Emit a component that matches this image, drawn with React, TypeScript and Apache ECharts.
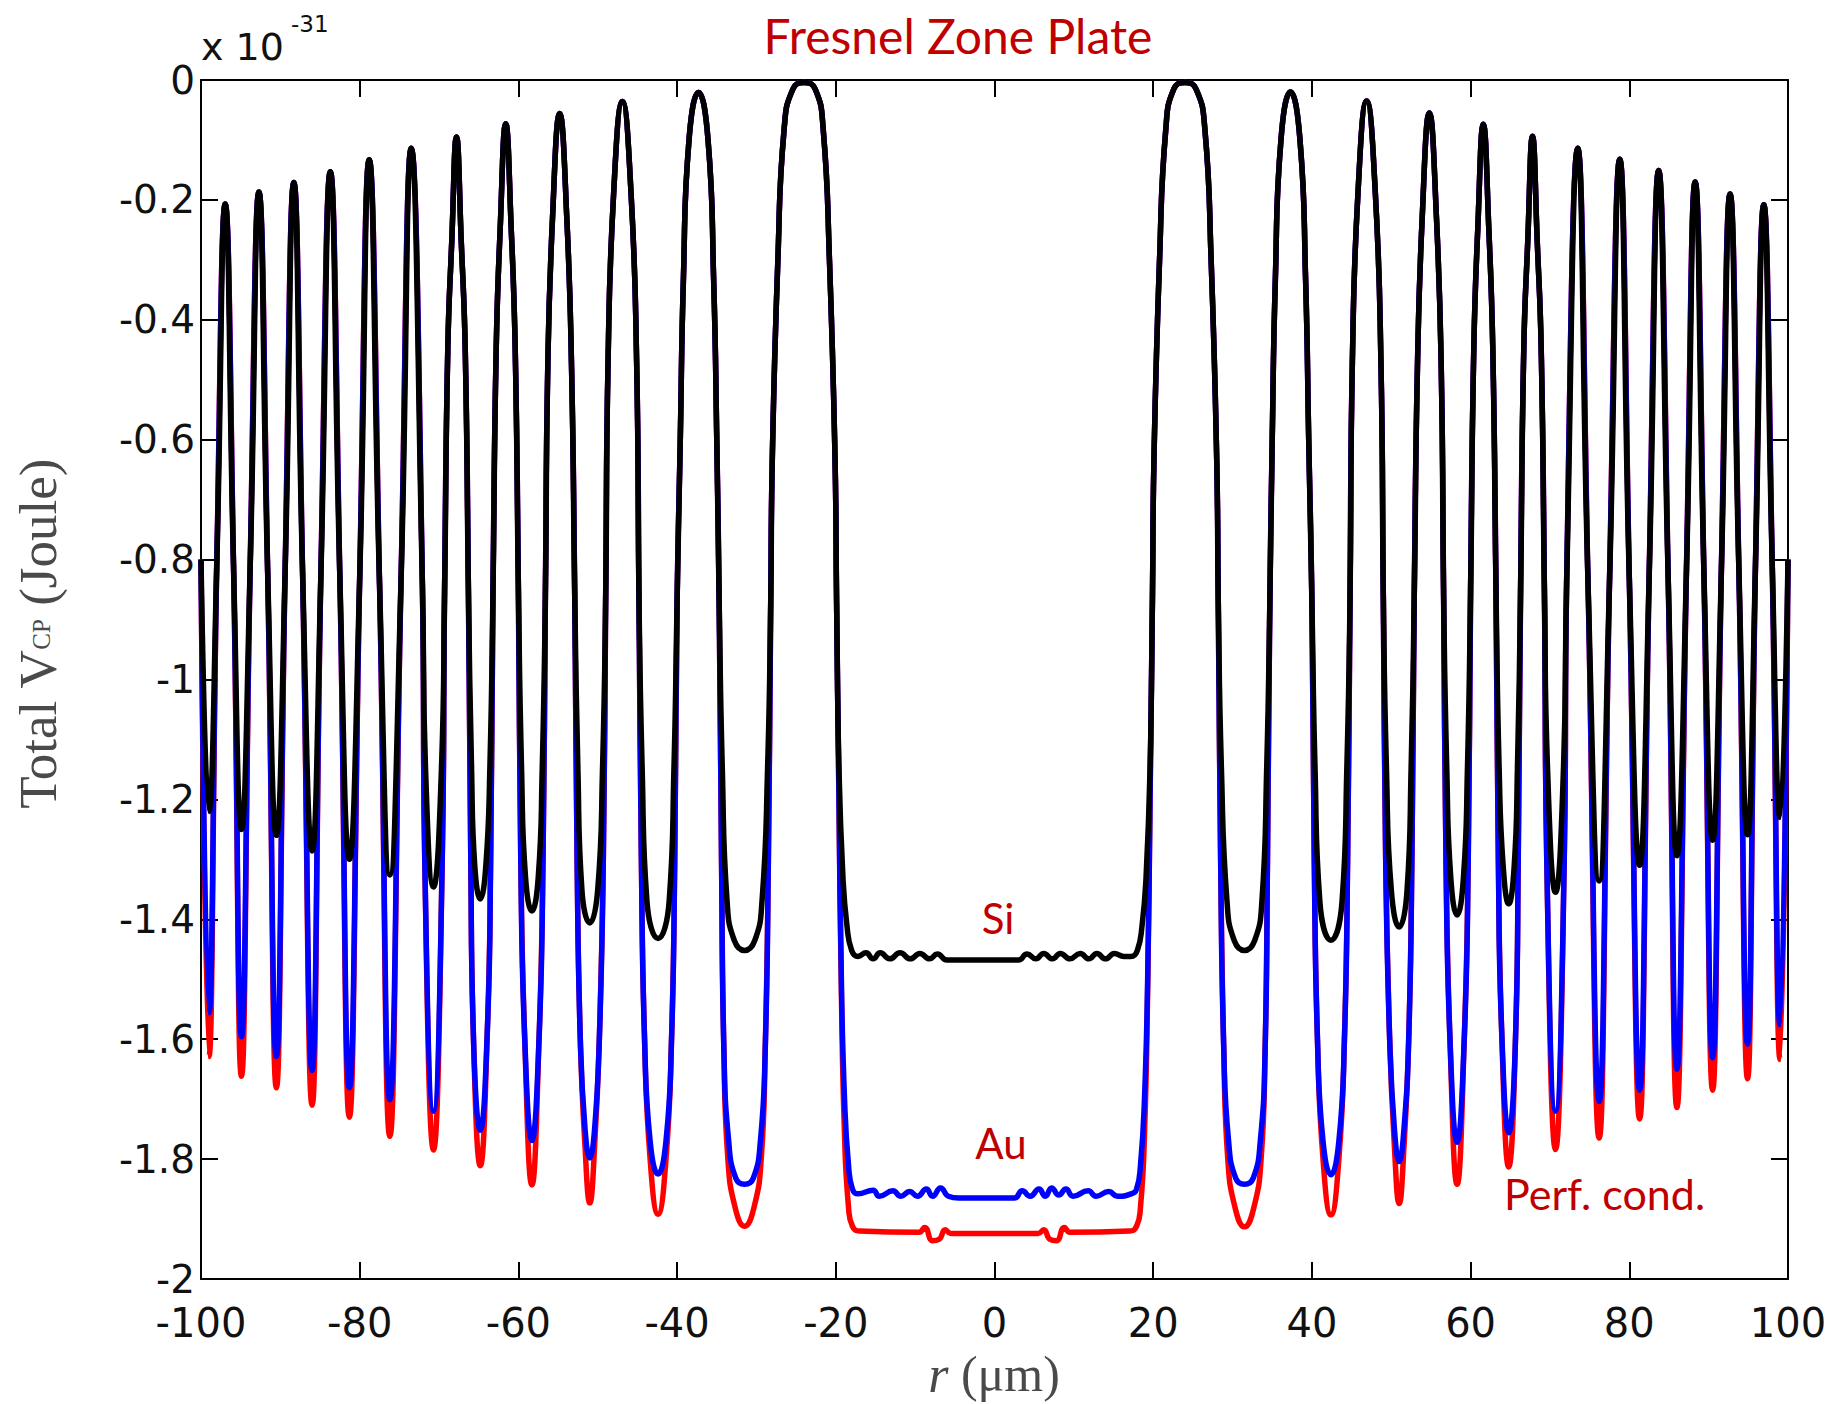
import React, { useEffect, useRef } from 'react';
import * as echarts from 'echarts';

type P = [number, number];

// axis ranges (µm / ×1e-31 J)
const xRange = { min: -100, max: 100, interval: 20 };
const yRange = { min: -2, max: 0, interval: 0.2 };

// zone boundaries where the three curves coincide
const edgePoints: P[] = [
  [-100, -0.8], [-98.0, -0.8], [-95.9, -0.81], [-93.8, -0.81], [-91.6, -0.82], [-89.4, -0.82], [-87.2, -0.82],
  [-84.9, -0.83], [-82.5, -0.83], [-80.0, -0.83], [-77.5, -0.84], [-74.8, -0.84], [-72.1, -0.84], [-69.3, -0.85],
  [-66.3, -0.85], [-63.2, -0.85], [-60.0, -0.85], [-56.6, -0.86], [-52.9, -0.86], [-49.0, -0.86], [-44.8, -0.87],
  [-40.0, -0.87], [-34.7, -0.87], [-28.2, -0.87], [-19.9, -0.87],
  [19.9, -0.87], [28.2, -0.87], [34.7, -0.87], [40.0, -0.87], [44.8, -0.87], [49.0, -0.86], [52.9, -0.86],
  [56.6, -0.86], [60.0, -0.85], [63.2, -0.85], [66.3, -0.85], [69.3, -0.85], [72.1, -0.84], [74.8, -0.84],
  [77.5, -0.84], [80.0, -0.83], [82.5, -0.83], [84.9, -0.83], [87.2, -0.82], [89.4, -0.82], [91.6, -0.82],
  [93.8, -0.81], [95.9, -0.81], [98.0, -0.8], [100, -0.8],
];

// maxima (shared by Si, Au, perfect conductor)
const peakPoints: P[] = [
  [-96.95, -0.207], [-92.7, -0.187], [-88.3, -0.171], [-83.7, -0.153], [-78.8, -0.133], [-73.5, -0.114],
  [-67.8, -0.095], [-61.6, -0.073], [-54.8, -0.056], [-46.9, -0.036], [-37.3, -0.021], [-24.0, -0.004],
  [24.0, -0.004], [37.3, -0.02], [46.9, -0.035], [54.8, -0.055], [61.6, -0.074], [67.8, -0.094],
  [73.5, -0.114], [78.8, -0.132], [83.7, -0.151], [88.3, -0.17], [92.7, -0.19], [96.95, -0.208],
];

// flanks of the wider maxima
const peakShoulders: P[] = [
  [-68.9, -0.45], [-68.4, -0.27], [-67.2, -0.27], [-66.7, -0.45],
  [-62.8, -0.45], [-62.3, -0.25], [-60.9, -0.25], [-60.4, -0.45],
  [-56.3, -0.48], [-55.7, -0.23], [-53.9, -0.23], [-53.3, -0.48],
  [-48.7, -0.47], [-48.0, -0.19], [-45.8, -0.19], [-45.1, -0.47],
  [-39.6, -0.6], [-39.2, -0.33], [-38.5, -0.1], [-36.1, -0.1], [-35.4, -0.33], [-35.0, -0.6],
  [-28.0, -0.63], [-27.3, -0.3], [-26.5, -0.08], [-25.4, -0.015], [-22.6, -0.015], [-21.6, -0.08], [-20.8, -0.3], [-20.1, -0.63],
  [20.1, -0.63], [20.8, -0.3], [21.6, -0.08], [22.6, -0.015], [25.4, -0.015], [26.5, -0.08], [27.3, -0.3], [28.0, -0.63],
  [35.0, -0.6], [35.4, -0.33], [36.1, -0.1], [38.5, -0.1], [39.2, -0.33], [39.6, -0.6],
  [45.1, -0.47], [45.8, -0.19], [48.0, -0.19], [48.7, -0.47],
  [53.3, -0.48], [53.9, -0.23], [55.7, -0.23], [56.3, -0.48],
  [60.4, -0.45], [60.9, -0.25], [62.3, -0.25], [62.8, -0.45],
  [66.7, -0.45], [67.2, -0.27], [68.4, -0.27], [68.9, -0.45],
];

// minima positions and depths
const dipR = [
  -99.0, -94.9, -90.5, -86.0, -81.3, -76.2, -70.7, -64.8, -58.3, -51.0, -42.4, -31.5,
  31.5, 42.4, 51.0, 58.3, 64.8, 70.7, 76.2, 81.3, 86.0, 90.5, 94.9, 99.0,
];
const siDipV = [
  -1.22, -1.25, -1.26, -1.286, -1.3, -1.326, -1.346, -1.366, -1.386, -1.406, -1.432, -1.452,
  -1.452, -1.435, -1.413, -1.393, -1.374, -1.355, -1.336, -1.31, -1.294, -1.268, -1.259, -1.23,
];
const auDipV = [
  -1.556, -1.596, -1.629, -1.652, -1.681, -1.701, -1.72, -1.752, -1.769, -1.798, -1.825, -1.842,
  -1.842, -1.826, -1.804, -1.772, -1.756, -1.72, -1.704, -1.685, -1.65, -1.631, -1.608, -1.576,
];
const pcDipV = [
  -1.629, -1.662, -1.681, -1.71, -1.73, -1.762, -1.785, -1.811, -1.843, -1.873, -1.892, -1.912,
  -1.913, -1.893, -1.874, -1.842, -1.813, -1.784, -1.765, -1.733, -1.714, -1.685, -1.666, -1.634,
];

// flanks of the wider minima, per material
const siDipShoulders: P[] = [
  [-71.7, -1.15], [-69.7, -1.15],
  [-65.9, -1.15], [-65.5, -1.31], [-64.1, -1.31], [-63.6, -1.15],
  [-59.6, -1.15], [-59.1, -1.33], [-57.5, -1.33], [-57.0, -1.15],
  [-52.5, -1.15], [-52.0, -1.35], [-50.0, -1.35], [-49.4, -1.15],
  [-44.4, -1.15], [-43.8, -1.37], [-41.0, -1.37], [-40.4, -1.15],
  [-34.3, -1.15], [-33.7, -1.37], [-32.8, -1.435], [-30.2, -1.435], [-29.3, -1.37], [-28.6, -1.15],
  [28.6, -1.15], [29.3, -1.37], [30.2, -1.435], [32.8, -1.435], [33.7, -1.37], [34.3, -1.15],
  [40.4, -1.15], [41.0, -1.37], [43.8, -1.37], [44.4, -1.15],
  [49.4, -1.15], [50.0, -1.35], [52.0, -1.35], [52.5, -1.15],
  [57.0, -1.15], [57.5, -1.33], [59.1, -1.33], [59.6, -1.15],
  [63.6, -1.15], [64.1, -1.31], [65.5, -1.31], [65.9, -1.15],
  [69.7, -1.15], [71.7, -1.15],
];
const auDipShoulders: P[] = [
  [-71.8, -1.3], [-69.6, -1.3],
  [-66.0, -1.3], [-65.7, -1.58], [-63.9, -1.58], [-63.5, -1.3],
  [-59.7, -1.3], [-59.2, -1.6], [-57.4, -1.6], [-56.9, -1.3],
  [-52.6, -1.3], [-52.2, -1.6], [-51.6, -1.75], [-50.4, -1.75], [-49.8, -1.6], [-49.3, -1.3],
  [-44.5, -1.3], [-44.1, -1.6], [-43.4, -1.77], [-41.4, -1.77], [-40.7, -1.6], [-40.3, -1.3],
  [-34.4, -1.3], [-34.1, -1.62], [-33.5, -1.77], [-32.6, -1.832], [-30.4, -1.832], [-29.5, -1.77], [-28.9, -1.62], [-28.5, -1.3],
  [28.5, -1.3], [28.9, -1.62], [29.5, -1.77], [30.4, -1.832], [32.6, -1.832], [33.5, -1.77], [34.1, -1.62], [34.4, -1.3],
  [40.3, -1.3], [40.7, -1.6], [41.4, -1.77], [43.4, -1.77], [44.1, -1.6], [44.5, -1.3],
  [49.3, -1.3], [49.8, -1.6], [50.4, -1.75], [51.6, -1.75], [52.2, -1.6], [52.6, -1.3],
  [56.9, -1.3], [57.4, -1.6], [59.2, -1.6], [59.7, -1.3],
  [63.5, -1.3], [63.9, -1.58], [65.7, -1.58], [66.0, -1.3],
  [69.6, -1.3], [71.8, -1.3],
];
const pcDipShoulders: P[] = [
  [-71.8, -1.3], [-69.6, -1.3],
  [-66.0, -1.3], [-65.7, -1.58], [-63.9, -1.58], [-63.5, -1.3],
  [-59.7, -1.3], [-59.2, -1.6], [-57.4, -1.6], [-56.9, -1.3],
  [-52.6, -1.3], [-52.2, -1.6], [-51.6, -1.78], [-50.4, -1.78], [-49.8, -1.6], [-49.3, -1.3],
  [-44.5, -1.3], [-44.1, -1.6], [-43.4, -1.8], [-41.4, -1.8], [-40.7, -1.6], [-40.3, -1.3],
  [-34.4, -1.3], [-34.1, -1.62], [-33.6, -1.8], [-32.7, -1.88], [-30.3, -1.88], [-29.4, -1.8], [-28.9, -1.62], [-28.5, -1.3],
  [28.5, -1.3], [28.9, -1.62], [29.4, -1.8], [30.3, -1.88], [32.7, -1.88], [33.6, -1.8], [34.1, -1.62], [34.4, -1.3],
  [40.3, -1.3], [40.7, -1.6], [41.4, -1.8], [43.4, -1.8], [44.1, -1.6], [44.5, -1.3],
  [49.3, -1.3], [49.8, -1.6], [50.4, -1.78], [51.6, -1.78], [52.2, -1.6], [52.6, -1.3],
  [56.9, -1.3], [57.4, -1.6], [59.2, -1.6], [59.7, -1.3],
  [63.5, -1.3], [63.9, -1.58], [65.7, -1.58], [66.0, -1.3],
  [69.6, -1.3], [71.8, -1.3],
];

// central zone (|r| < 20), per material
const siCenter: P[] = [
  [-19.6, -1.15], [-19.1, -1.33], [-18.6, -1.41], [-18.0, -1.452], [-17.2, -1.462], [-16.2, -1.456],
  [-15.3, -1.466], [-14.4, -1.456], [-13.2, -1.466], [-11.9, -1.456], [-10.6, -1.466], [-9.4, -1.457],
  [-8.2, -1.466], [-7.2, -1.458], [-6.0, -1.468], [-3.0, -1.468], [0, -1.468], [3.0, -1.468],
  [4.1, -1.458], [5.2, -1.466], [6.2, -1.457], [7.3, -1.466], [8.3, -1.457], [9.5, -1.466],
  [10.8, -1.457], [11.9, -1.466], [12.9, -1.457], [14.0, -1.466], [15.1, -1.457], [16.3, -1.462],
  [17.2, -1.462], [18.0, -1.452], [18.6, -1.41], [19.1, -1.33], [19.6, -1.15],
];
const auCenter: P[] = [
  [-19.6, -1.2], [-19.3, -1.5], [-18.9, -1.7], [-18.4, -1.81], [-17.9, -1.85], [-17.2, -1.858],
  [-15.3, -1.852], [-14.5, -1.862], [-12.8, -1.853], [-11.8, -1.862], [-10.7, -1.854], [-9.7, -1.862],
  [-8.6, -1.85], [-7.8, -1.862], [-6.8, -1.848], [-5.8, -1.862], [-4.5, -1.865], [0, -1.865],
  [2.5, -1.865], [3.5, -1.853], [4.5, -1.862], [5.6, -1.85], [6.4, -1.862], [7.2, -1.848],
  [8.1, -1.86], [9.0, -1.85], [9.9, -1.862], [11.8, -1.853], [12.8, -1.862], [14.4, -1.854],
  [15.5, -1.862], [17.2, -1.858], [17.9, -1.85], [18.4, -1.81], [18.9, -1.7], [19.3, -1.5], [19.6, -1.2],
];
const pcCenter: P[] = [
  [-19.6, -1.2], [-19.3, -1.52], [-18.9, -1.76], [-18.4, -1.88], [-17.9, -1.912], [-17.0, -1.92],
  [-9.5, -1.922], [-8.8, -1.914], [-7.8, -1.936], [-7.0, -1.934], [-6.2, -1.918], [-5.5, -1.924],
  [0, -1.924], [5.5, -1.924], [6.2, -1.918], [7.0, -1.934], [7.8, -1.936], [8.8, -1.914],
  [9.5, -1.922], [17.0, -1.92], [17.9, -1.912], [18.4, -1.88], [18.9, -1.76], [19.3, -1.52], [19.6, -1.2],
];

const seriesNames = ['Perf. cond.', 'Au', 'Si'];
const seriesColors = ['#FF0000', '#0000FF', '#000000'];

function buildSeries(dipV: number[], shoulders: P[], center: P[]): P[] {
  const dips: P[] = dipR.map((r, i) => [r, dipV[i]] as P);
  return [...edgePoints, ...peakPoints, ...peakShoulders, ...dips, ...shoulders, ...center].sort(
    (a, b) => a[0] - b[0]
  );
}

const LABEL_FONT = 'DejaVu Sans';
const SERIF = 'Liberation Serif';
const ANNOT = 'Lato';
const ANNOT_COLOR = '#C00000';

export default function App() {
  const ref = useRef<HTMLDivElement>(null);

  useEffect(() => {
    if (!ref.current) return;
    const chart = echarts.init(ref.current, null, { renderer: 'svg' });
    const data = [
      buildSeries(pcDipV, pcDipShoulders, pcCenter),
      buildSeries(auDipV, auDipShoulders, auCenter),
      buildSeries(siDipV, siDipShoulders, siCenter),
    ];
    const axisLine = { show: true, onZero: false, lineStyle: { color: '#000', width: 2 } };
    const axisTick = { show: true, inside: true, length: 17, lineStyle: { color: '#000', width: 2 } };
    const fmt = (v: number) => {
      const s = String(Math.round(v * 10) / 10);
      return s === '-0' ? '0' : s;
    };
    const option: any = {
      animation: false,
      backgroundColor: '#ffffff',
      grid: { left: 201, right: 44, top: 80, bottom: 125 },
      xAxis: [
        {
          type: 'value',
          ...xRange,
          position: 'bottom',
          axisLine,
          axisTick,
          splitLine: { show: false },
          axisLabel: {
            show: true,
            margin: 24,
            fontFamily: LABEL_FONT,
            fontSize: 40,
            lineHeight: 40,
            color: '#111',
            formatter: (v: number) => String(Math.round(v)),
          },
        },
        {
          type: 'value',
          ...xRange,
          position: 'top',
          axisLine,
          axisTick,
          splitLine: { show: false },
          axisLabel: { show: false },
        },
      ],
      yAxis: [
        {
          type: 'value',
          ...yRange,
          position: 'left',
          axisLine,
          axisTick,
          splitLine: { show: false },
          axisLabel: {
            show: true,
            margin: 6,
            fontFamily: LABEL_FONT,
            fontSize: 39,
            lineHeight: 36,
            color: '#111',
            formatter: fmt,
          },
        },
        {
          type: 'value',
          ...yRange,
          position: 'right',
          axisLine,
          axisTick,
          splitLine: { show: false },
          axisLabel: { show: false },
        },
      ],
      series: data.map((d, i) => ({
        name: seriesNames[i],
        type: 'line',
        xAxisIndex: 0,
        yAxisIndex: 0,
        data: d,
        smooth: 0.5,
        showSymbol: false,
        symbol: 'none',
        clip: true,
        z: 2 + i,
        lineStyle: { color: seriesColors[i], width: 5.5 },
        emphasis: { disabled: true },
      })),
      graphic: [
        {
          type: 'text',
          x: 958,
          y: 35,
          style: {
            text: 'Fresnel Zone Plate',
            fontFamily: ANNOT,
            fontSize: 48,
            fill: ANNOT_COLOR,
            align: 'center',
            verticalAlign: 'middle',
            textAlign: 'center',
            textVerticalAlign: 'middle',
          },
        },
        {
          type: 'text',
          x: 201,
          y: 47,
          style: {
            text: 'x 10',
            fontFamily: LABEL_FONT,
            fontSize: 38,
            fill: '#111',
            align: 'left',
            verticalAlign: 'middle',
            textAlign: 'left',
            textVerticalAlign: 'middle',
          },
        },
        {
          type: 'text',
          x: 291,
          y: 24,
          style: {
            text: '-31',
            fontFamily: LABEL_FONT,
            fontSize: 23,
            fill: '#111',
            align: 'left',
            verticalAlign: 'middle',
            textAlign: 'left',
            textVerticalAlign: 'middle',
          },
        },
        {
          type: 'text',
          x: 998,
          y: 918,
          style: {
            text: 'Si',
            fontFamily: ANNOT,
            fontSize: 42,
            fill: ANNOT_COLOR,
            align: 'center',
            verticalAlign: 'middle',
            textAlign: 'center',
            textVerticalAlign: 'middle',
          },
        },
        {
          type: 'text',
          x: 1001,
          y: 1143,
          style: {
            text: 'Au',
            fontFamily: ANNOT,
            fontSize: 42,
            fill: ANNOT_COLOR,
            align: 'center',
            verticalAlign: 'middle',
            textAlign: 'center',
            textVerticalAlign: 'middle',
          },
        },
        {
          type: 'text',
          x: 1504,
          y: 1193,
          style: {
            text: 'Perf. cond.',
            fontFamily: ANNOT,
            fontSize: 43,
            fill: ANNOT_COLOR,
            align: 'left',
            verticalAlign: 'middle',
            textAlign: 'left',
            textVerticalAlign: 'middle',
          },
        },
        {
          type: 'text',
          x: 38,
          y: 634,
          rotation: Math.PI / 2,
          style: {
            text: '{a|Total V}{s|CP}{a| (Joule)}',
            fontFamily: SERIF,
            fontSize: 53,
            fill: '#4a4a4a',
            align: 'center',
            verticalAlign: 'middle',
            textAlign: 'center',
            textVerticalAlign: 'middle',
            rich: {
              a: { fontFamily: SERIF, fontSize: 53, fill: '#4a4a4a', color: '#4a4a4a' },
              s: { fontFamily: SERIF, fontSize: 25, fill: '#4a4a4a', color: '#4a4a4a', padding: [6, 0, 0, 0] },
            },
          },
        },
        {
          type: 'text',
          x: 994,
          y: 1374,
          style: {
            text: '{i|r}{n| (μm)}',
            fontFamily: SERIF,
            fontSize: 50,
            fill: '#4a4a4a',
            align: 'center',
            verticalAlign: 'middle',
            textAlign: 'center',
            textVerticalAlign: 'middle',
            rich: {
              i: { fontFamily: SERIF, fontStyle: 'italic', fontSize: 52, fill: '#4a4a4a', color: '#4a4a4a' },
              n: { fontFamily: SERIF, fontSize: 50, fill: '#4a4a4a', color: '#4a4a4a' },
            },
          },
        },
      ],
    };
    chart.setOption(option);
    return () => chart.dispose();
  }, []);

  return (
    <div
      ref={ref}
      style={{ position: 'absolute', left: 0, top: 0, width: 1832, height: 1404, background: '#fff' }}
    />
  );
}
